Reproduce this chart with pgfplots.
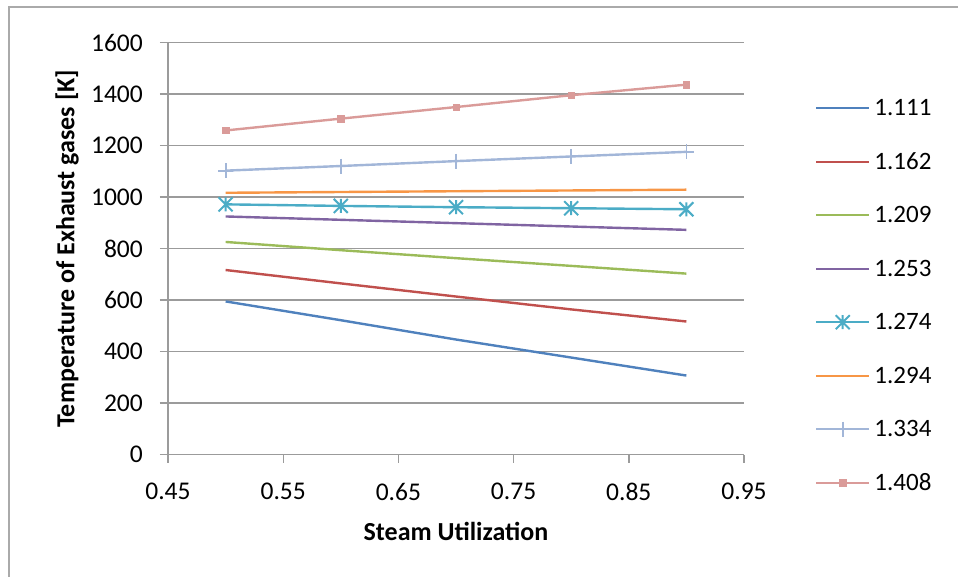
\documentclass[border=0pt]{standalone}
\usepackage{pgfplots}
\pgfplotsset{compat=1.18}
\usepackage{fontspec}
\setmainfont{Carlito}
\definecolor{c1}{HTML}{4F81BD}
\definecolor{c2}{HTML}{C0504D}
\definecolor{c3}{HTML}{9BBB59}
\definecolor{c4}{HTML}{8064A2}
\definecolor{c5}{HTML}{4BACC6}
\definecolor{c6}{HTML}{F79646}
\definecolor{c7}{RGB}{162,182,216}
\definecolor{c8}{RGB}{218,155,153}
\definecolor{gridc}{RGB}{155,155,155}
\definecolor{framec}{RGB}{170,170,170}
\pgfdeclareplotmark{exast}{%
 \pgfpathmoveto{\pgfqpoint{0pt}{\pgfplotmarksize}}\pgfpathlineto{\pgfqpoint{0pt}{-\pgfplotmarksize}}%
 \pgfpathmoveto{\pgfqpoint{\pgfplotmarksize}{\pgfplotmarksize}}\pgfpathlineto{\pgfqpoint{-\pgfplotmarksize}{-\pgfplotmarksize}}%
 \pgfpathmoveto{\pgfqpoint{-\pgfplotmarksize}{\pgfplotmarksize}}\pgfpathlineto{\pgfqpoint{\pgfplotmarksize}{-\pgfplotmarksize}}%
 \pgfusepathqstroke}
\begin{document}
\begin{tikzpicture}
\useasboundingbox (0,0) rectangle (958pt,577pt);
\draw[framec, line width=1.2pt] (9pt,0pt) -- (9pt,570pt) -- (958pt,570pt);
\begin{axis}[
  at={(168pt,122.4pt)}, anchor=south west,
  width=576pt, height=411.9pt, scale only axis,
  xmin=0.45, xmax=0.95, ymin=0, ymax=1600,
  xtick={0.45,0.55,0.65,0.75,0.85,0.95},
  xticklabels={0.45,0.55,0.65,0.75,0.85,0.95},
  ytick={0,200,400,600,800,1000,1200,1400,1600},
  yticklabels={0,200,400,600,800,1000,1200,1400,1600},
  axis lines*=left,
  axis line style={gridc, line width=1.4pt},
  ymajorgrids, grid style={gridc, line width=1.4pt},
  tick align=outside, major tick length=8pt,
  tick style={gridc, line width=1.4pt},
  ticklabel style={font=\fontsize{25.5}{30}\selectfont, inner sep=0pt},
  yticklabel style={anchor=east, xshift=-17pt},
  xticklabel style={anchor=north, yshift=-20pt},
  xlabel={\textbf{Steam Utilization}},
  ylabel={\textbf{Temperature of Exhaust gases [K]}},
  label style={font=\fontsize{26}{30}\selectfont, inner sep=0pt},
  xlabel style={at={(axis description cs:0.5,-0.1864)}, anchor=center},
  ylabel style={at={(axis description cs:-0.1753,0.5)}, anchor=center},
  legend style={draw=none, fill=none, inner sep=0pt, outer sep=0pt,
    at={(axis description cs:1.1233,0.3863)}, anchor=west,
    font=\fontsize{25}{29}\selectfont, row sep=28.5pt, column sep=4pt,
    nodes={inner sep=0pt, text height=20pt, text depth=5pt}},
  legend cell align=left,
  legend image code/.code={\draw[mark repeat=2,mark phase=2] plot coordinates {(0pt,0pt) (26.5pt,0pt) (53pt,0pt)};},
  every axis plot/.append style={line width=2.4pt},
]
\addplot[c1, no marks] coordinates {(0.5,595) (0.6,522) (0.7,447) (0.8,377) (0.9,307)};
\addlegendentry{1.111}
\addplot[c2, no marks] coordinates {(0.5,717) (0.6,665) (0.7,614) (0.8,564) (0.9,517)};
\addlegendentry{1.162}
\addplot[c3, no marks] coordinates {(0.5,826) (0.6,794) (0.7,763) (0.8,733) (0.9,703)};
\addlegendentry{1.209}
\addplot[c4, no marks] coordinates {(0.5,925) (0.6,912) (0.7,899) (0.8,886) (0.9,873)};
\addlegendentry{1.253}
\addplot[c5, mark=exast, mark size=7pt, mark options={line width=2pt}] coordinates {(0.5,972) (0.6,966) (0.7,961) (0.8,957) (0.9,953)};
\addlegendentry{1.274}
\addplot[c6, no marks] coordinates {(0.5,1017) (0.6,1020) (0.7,1023) (0.8,1026) (0.9,1029)};
\addlegendentry{1.294}
\addplot[c7, mark=+, mark size=7.5pt, mark options={line width=1.8pt}] coordinates {(0.5,1103) (0.6,1121) (0.7,1140) (0.8,1158) (0.9,1176)};
\addlegendentry{1.334}
\addplot[c8, mark=square*, mark size=3.2pt, mark options={line width=0.5pt}] coordinates {(0.5,1259) (0.6,1305) (0.7,1350) (0.8,1396) (0.9,1437)};
\addlegendentry{1.408}
\end{axis}
\end{tikzpicture}
\end{document}
